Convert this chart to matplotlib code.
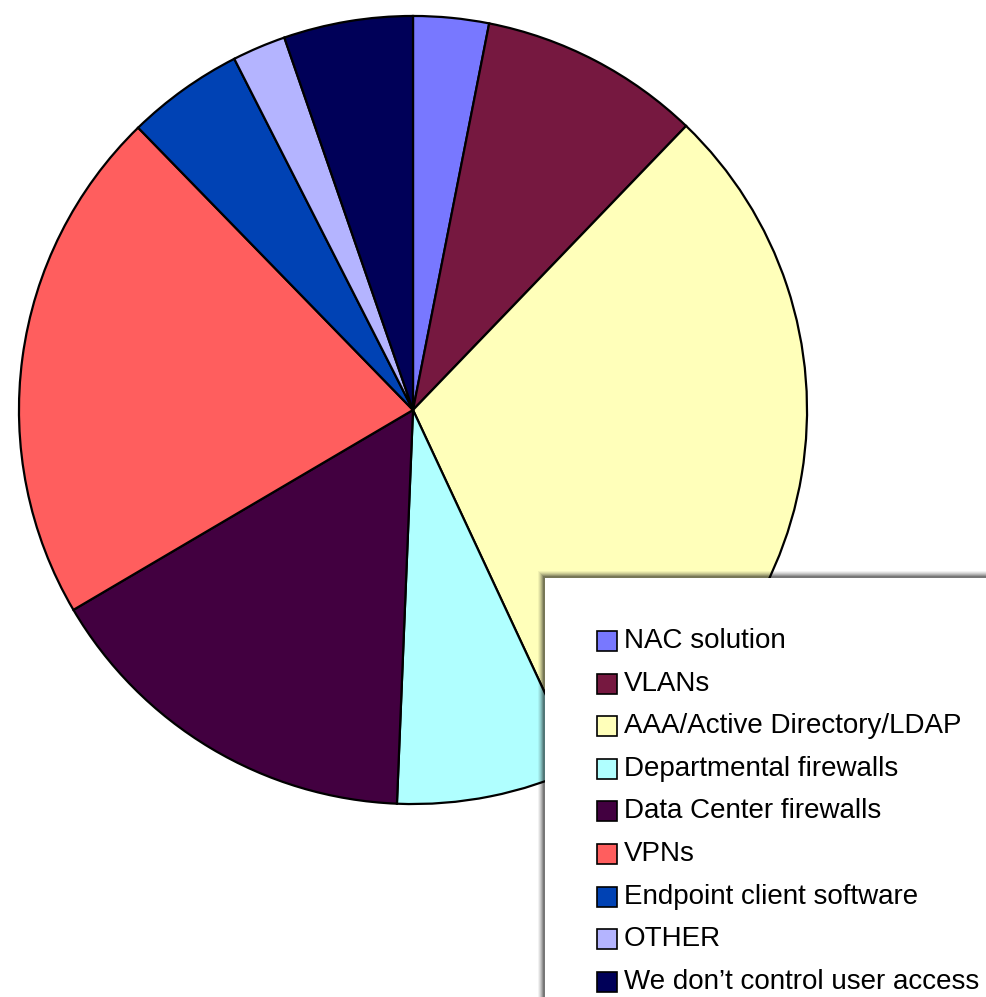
import matplotlib.pyplot as plt
from matplotlib.patches import Rectangle

labels = ['NAC solution', 'VLANs', 'AAA/Active Directory/LDAP',
          'Departmental firewalls', 'Data Center firewalls', 'VPNs',
          'Endpoint client software', 'OTHER', "We don\u2019t control user access"]
shares = [3.1, 9.1, 30.9, 7.6, 15.9, 21.2, 4.8, 2.2, 5.3]
colors = ['#7878FF', '#761840', '#FFFFBA', '#B0FFFF', '#420040',
          '#FF5E5E', '#0042B4', '#B4B4FF', '#000058']

plt.rcParams['font.family'] = ['Liberation Sans', 'DejaVu Sans']

W, H = 987, 997
fig = plt.figure(figsize=(W / 100, H / 100), dpi=100)

# pie: centre (413, 410) px, radius 396 px
cx, cy, r = 413, 410, 396
ax = fig.add_axes([(cx - r) / W, 1 - (cy + r) / H, 2 * r / W, 2 * r / H])
ax.pie(shares, colors=colors, startangle=90, counterclock=False,
       wedgeprops=dict(edgecolor='black', linewidth=1.6))
ax.set_xlim(-1.005, 1.005)
ax.set_ylim(-1.005, 1.005)
ax.axis('off')

# legend box with soft shadow (runs off the right/bottom edge)
lx, ly = 545, 578
for k, a in enumerate([0.05, 0.07, 0.09, 0.12, 0.16, 0.2]):
    off = 7 - k
    fig.patches.append(Rectangle(((lx - off) / W, 0), 1, 1 - (ly - off) / H,
                                 transform=fig.transFigure, facecolor='black',
                                 alpha=a, edgecolor='none', zorder=5))
fig.patches.append(Rectangle((lx / W, 0), 1, 1 - ly / H,
                             transform=fig.transFigure, facecolor='white',
                             edgecolor='none', zorder=6))

row0, step = 641, 42.6
for i, (lab, col) in enumerate(zip(labels, colors)):
    y = row0 + i * step
    fig.patches.append(Rectangle((597 / W, 1 - (y + 10) / H), 20 / W, 20 / H,
                                 transform=fig.transFigure, facecolor=col,
                                 edgecolor='black', linewidth=1.2, zorder=7))
    fig.text(624 / W, 1 - y / H, lab, fontsize=20, va='center', ha='left',
             color='black', zorder=8)

fig.savefig('out.png', dpi=100)
